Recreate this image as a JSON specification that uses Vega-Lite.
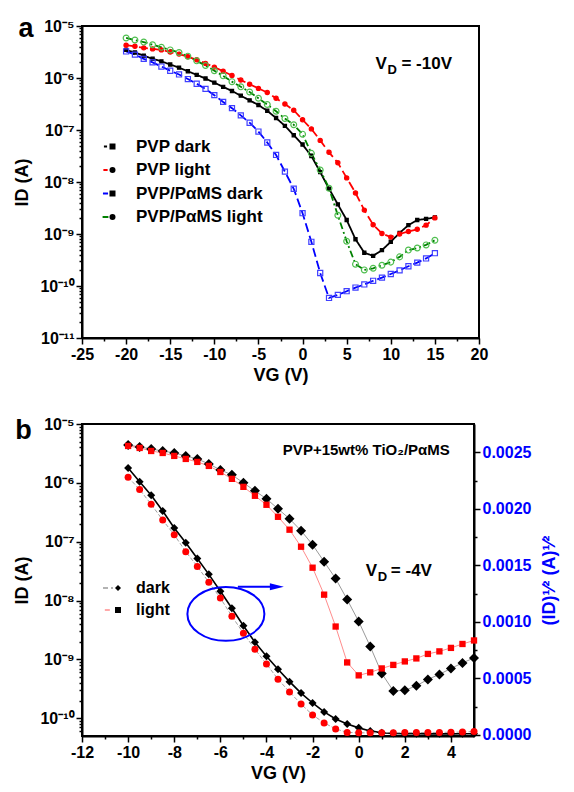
{
  "$schema": "https://vega.github.io/schema/vega-lite/v6.json",
  "background": "white",
  "padding": {"left": 12, "top": 14, "right": 0, "bottom": 0},
  "spacing": 30,
  "resolve": {
    "scale": {"color": "independent", "fill": "independent", "shape": "independent", "size": "independent", "stroke": "independent", "strokeDash": "independent"},
    "legend": {"color": "independent", "fill": "independent", "shape": "independent", "size": "independent", "stroke": "independent", "strokeDash": "independent"}
  },
  "config": {
    "font": "Liberation Sans",
    "view": {"stroke": "black", "strokeWidth": 2},
    "axis": {"labelFont": "Liberation Sans", "labelFontWeight": "bold", "labelFontSize": 16, "labelColor": "black", "titleFont": "Liberation Sans", "titleFontWeight": "bold", "titleFontSize": 18, "titleColor": "black", "domainColor": "black", "domainWidth": 2, "tickColor": "black", "tickWidth": 1.5, "tickSize": 6, "grid": false, "labelPadding": 2, "labelFlush": false, "labelOverlap": false},
    "legend": {"labelFont": "Liberation Sans", "labelFontWeight": "bold", "labelColor": "black"},
    "text": {"font": "Liberation Sans", "fontWeight": "bold"}
  },
  "datasets": {
    "a": [
      {"s":"PVP dark","V":-20,"I":3.47e-6},{"s":"PVP dark","V":-19,"I":3.09e-6},{"s":"PVP dark","V":-18,"I":2.69e-6},{"s":"PVP dark","V":-17,"I":2.34e-6},{"s":"PVP dark","V":-16,"I":2.09e-6},{"s":"PVP dark","V":-15,"I":1.82e-6},{"s":"PVP dark","V":-14,"I":1.58e-6},{"s":"PVP dark","V":-13,"I":1.35e-6},{"s":"PVP dark","V":-12,"I":1.15e-6},{"s":"PVP dark","V":-11,"I":9.77e-7},{"s":"PVP dark","V":-10,"I":8.13e-7},{"s":"PVP dark","V":-9,"I":6.76e-7},{"s":"PVP dark","V":-8,"I":5.62e-7},{"s":"PVP dark","V":-7,"I":4.57e-7},{"s":"PVP dark","V":-6,"I":3.72e-7},{"s":"PVP dark","V":-5,"I":3.02e-7},{"s":"PVP dark","V":-4,"I":2.34e-7},{"s":"PVP dark","V":-3,"I":1.70e-7},{"s":"PVP dark","V":-2,"I":1.20e-7},{"s":"PVP dark","V":-1,"I":7.94e-8},{"s":"PVP dark","V":0,"I":5.25e-8},{"s":"PVP dark","V":1,"I":3.16e-8},{"s":"PVP dark","V":2,"I":1.55e-8},{"s":"PVP dark","V":3,"I":7.41e-9},{"s":"PVP dark","V":4,"I":3.72e-9},{"s":"PVP dark","V":5,"I":1.86e-9},{"s":"PVP dark","V":6,"I":7.94e-10},{"s":"PVP dark","V":7,"I":4.37e-10},{"s":"PVP dark","V":8,"I":3.80e-10},{"s":"PVP dark","V":9,"I":4.90e-10},{"s":"PVP dark","V":10,"I":7.08e-10},{"s":"PVP dark","V":11,"I":1.05e-9},{"s":"PVP dark","V":12,"I":1.48e-9},{"s":"PVP dark","V":13,"I":1.86e-9},{"s":"PVP dark","V":14,"I":1.95e-9},{"s":"PVP dark","V":15,"I":2.09e-9},
      {"s":"PVP light","V":-20,"I":4.27e-6},{"s":"PVP light","V":-19,"I":4.07e-6},{"s":"PVP light","V":-18,"I":3.80e-6},{"s":"PVP light","V":-17,"I":3.63e-6},{"s":"PVP light","V":-16,"I":3.47e-6},{"s":"PVP light","V":-15,"I":3.16e-6},{"s":"PVP light","V":-14,"I":2.88e-6},{"s":"PVP light","V":-13,"I":2.57e-6},{"s":"PVP light","V":-12,"I":2.24e-6},{"s":"PVP light","V":-11,"I":1.91e-6},{"s":"PVP light","V":-10,"I":1.62e-6},{"s":"PVP light","V":-9,"I":1.35e-6},{"s":"PVP light","V":-8,"I":1.12e-6},{"s":"PVP light","V":-7,"I":9.12e-7},{"s":"PVP light","V":-6,"I":7.59e-7},{"s":"PVP light","V":-5,"I":6.31e-7},{"s":"PVP light","V":-4,"I":5.25e-7},{"s":"PVP light","V":-3,"I":4.07e-7},{"s":"PVP light","V":-2,"I":3.16e-7},{"s":"PVP light","V":-1,"I":2.40e-7},{"s":"PVP light","V":0,"I":1.58e-7},{"s":"PVP light","V":1,"I":1.05e-7},{"s":"PVP light","V":2,"I":6.31e-8},{"s":"PVP light","V":3,"I":3.72e-8},{"s":"PVP light","V":4,"I":2.34e-8},{"s":"PVP light","V":5,"I":1.20e-8},{"s":"PVP light","V":6,"I":6.17e-9},{"s":"PVP light","V":7,"I":2.88e-9},{"s":"PVP light","V":8,"I":1.51e-9},{"s":"PVP light","V":9,"I":1.02e-9},{"s":"PVP light","V":10,"I":8.71e-10},{"s":"PVP light","V":11,"I":1.00e-9},{"s":"PVP light","V":12,"I":1.12e-9},{"s":"PVP light","V":13,"I":1.23e-9},{"s":"PVP light","V":14,"I":1.48e-9},{"s":"PVP light","V":15,"I":2.04e-9},
      {"s":"PVP/PαMS dark","V":-20,"I":3.24e-6},{"s":"PVP/PαMS dark","V":-19,"I":2.82e-6},{"s":"PVP/PαMS dark","V":-18,"I":2.34e-6},{"s":"PVP/PαMS dark","V":-17,"I":2.00e-6},{"s":"PVP/PαMS dark","V":-16,"I":1.66e-6},{"s":"PVP/PαMS dark","V":-15,"I":1.38e-6},{"s":"PVP/PαMS dark","V":-14,"I":1.17e-6},{"s":"PVP/PαMS dark","V":-13,"I":9.55e-7},{"s":"PVP/PαMS dark","V":-12,"I":7.76e-7},{"s":"PVP/PαMS dark","V":-11,"I":6.17e-7},{"s":"PVP/PαMS dark","V":-10,"I":4.68e-7},{"s":"PVP/PαMS dark","V":-9,"I":3.47e-7},{"s":"PVP/PαMS dark","V":-8,"I":2.63e-7},{"s":"PVP/PαMS dark","V":-7,"I":1.91e-7},{"s":"PVP/PαMS dark","V":-6,"I":1.38e-7},{"s":"PVP/PαMS dark","V":-5,"I":9.33e-8},{"s":"PVP/PαMS dark","V":-4,"I":5.75e-8},{"s":"PVP/PαMS dark","V":-3,"I":3.31e-8},{"s":"PVP/PαMS dark","V":-2,"I":1.58e-8},{"s":"PVP/PαMS dark","V":-1,"I":7.41e-9},{"s":"PVP/PαMS dark","V":0,"I":2.51e-9},{"s":"PVP/PαMS dark","V":1,"I":7.08e-10},{"s":"PVP/PαMS dark","V":2,"I":1.78e-10},{"s":"PVP/PαMS dark","V":3,"I":5.89e-11},{"s":"PVP/PαMS dark","V":4,"I":6.76e-11},{"s":"PVP/PαMS dark","V":5,"I":7.94e-11},{"s":"PVP/PαMS dark","V":6,"I":9.33e-11},{"s":"PVP/PαMS dark","V":7,"I":1.07e-10},{"s":"PVP/PαMS dark","V":8,"I":1.26e-10},{"s":"PVP/PαMS dark","V":9,"I":1.45e-10},{"s":"PVP/PαMS dark","V":10,"I":1.70e-10},{"s":"PVP/PαMS dark","V":11,"I":2.00e-10},{"s":"PVP/PαMS dark","V":12,"I":2.40e-10},{"s":"PVP/PαMS dark","V":13,"I":2.82e-10},{"s":"PVP/PαMS dark","V":14,"I":3.39e-10},{"s":"PVP/PαMS dark","V":15,"I":4.27e-10},
      {"s":"PVP/PαMS light","V":-20,"I":5.89e-6},{"s":"PVP/PαMS light","V":-19,"I":5.37e-6},{"s":"PVP/PαMS light","V":-18,"I":4.90e-6},{"s":"PVP/PαMS light","V":-17,"I":4.37e-6},{"s":"PVP/PαMS light","V":-16,"I":3.89e-6},{"s":"PVP/PαMS light","V":-15,"I":3.47e-6},{"s":"PVP/PαMS light","V":-14,"I":3.09e-6},{"s":"PVP/PαMS light","V":-13,"I":2.63e-6},{"s":"PVP/PαMS light","V":-12,"I":2.14e-6},{"s":"PVP/PαMS light","V":-11,"I":1.74e-6},{"s":"PVP/PαMS light","V":-10,"I":1.38e-6},{"s":"PVP/PαMS light","V":-9,"I":1.10e-6},{"s":"PVP/PαMS light","V":-8,"I":8.51e-7},{"s":"PVP/PαMS light","V":-7,"I":6.76e-7},{"s":"PVP/PαMS light","V":-6,"I":5.37e-7},{"s":"PVP/PαMS light","V":-5,"I":4.07e-7},{"s":"PVP/PαMS light","V":-4,"I":3.09e-7},{"s":"PVP/PαMS light","V":-3,"I":2.29e-7},{"s":"PVP/PαMS light","V":-2,"I":1.66e-7},{"s":"PVP/PαMS light","V":-1,"I":1.26e-7},{"s":"PVP/PαMS light","V":0,"I":8.32e-8},{"s":"PVP/PαMS light","V":1,"I":3.55e-8},{"s":"PVP/PαMS light","V":2,"I":1.70e-8},{"s":"PVP/PαMS light","V":3,"I":7.59e-9},{"s":"PVP/PαMS light","V":4,"I":2.29e-9},{"s":"PVP/PαMS light","V":5,"I":7.24e-10},{"s":"PVP/PαMS light","V":6,"I":2.63e-10},{"s":"PVP/PαMS light","V":7,"I":2.04e-10},{"s":"PVP/PαMS light","V":8,"I":2.19e-10},{"s":"PVP/PαMS light","V":9,"I":2.51e-10},{"s":"PVP/PαMS light","V":10,"I":2.88e-10},{"s":"PVP/PαMS light","V":11,"I":3.63e-10},{"s":"PVP/PαMS light","V":12,"I":4.90e-10},{"s":"PVP/PαMS light","V":13,"I":5.37e-10},{"s":"PVP/PαMS light","V":14,"I":6.17e-10},{"s":"PVP/PαMS light","V":15,"I":7.59e-10}
    ],
    "bl": [
      {"s":"dark","V":-10,"I":4.41e-6},{"s":"dark","V":-9.5,"I":4.07e-6},{"s":"dark","V":-9,"I":3.77e-6},{"s":"dark","V":-8.5,"I":3.48e-6},{"s":"dark","V":-8,"I":3.22e-6},{"s":"dark","V":-7.5,"I":2.87e-6},{"s":"dark","V":-7,"I":2.55e-6},{"s":"dark","V":-6.5,"I":2.10e-6},{"s":"dark","V":-6,"I":1.66e-6},{"s":"dark","V":-5.5,"I":1.37e-6},{"s":"dark","V":-5,"I":1.00e-6},{"s":"dark","V":-4.5,"I":7.31e-7},{"s":"dark","V":-4,"I":5.36e-7},{"s":"dark","V":-3.5,"I":3.62e-7},{"s":"dark","V":-3,"I":2.45e-7},{"s":"dark","V":-2.5,"I":1.54e-7},{"s":"dark","V":-2,"I":8.89e-8},{"s":"dark","V":-1.5,"I":4.58e-8},{"s":"dark","V":-1,"I":2.36e-8},{"s":"dark","V":-0.5,"I":1.04e-8},{"s":"dark","V":0,"I":4.41e-9},{"s":"dark","V":0.5,"I":1.66e-9},{"s":"dark","V":1,"I":5.79e-10},{"s":"dark","V":1.5,"I":2.92e-10},{"s":"dark","V":2,"I":2.99e-10},{"s":"dark","V":2.5,"I":3.56e-10},{"s":"dark","V":3,"I":4.58e-10},{"s":"dark","V":3.5,"I":5.57e-10},{"s":"dark","V":4,"I":7.03e-10},{"s":"dark","V":4.5,"I":8.73e-10},{"s":"dark","V":5,"I":1.06e-9},
      {"s":"light","V":-10,"I":4.24e-6},{"s":"light","V":-9.5,"I":3.92e-6},{"s":"light","V":-9,"I":3.48e-6},{"s":"light","V":-8.5,"I":3.22e-6},{"s":"light","V":-8,"I":2.87e-6},{"s":"light","V":-7.5,"I":2.55e-6},{"s":"light","V":-7,"I":2.27e-6},{"s":"light","V":-6.5,"I":1.94e-6},{"s":"light","V":-6,"I":1.53e-6},{"s":"light","V":-5.5,"I":1.17e-6},{"s":"light","V":-5,"I":8.55e-7},{"s":"light","V":-4.5,"I":6.03e-7},{"s":"light","V":-4,"I":4.24e-7},{"s":"light","V":-3.5,"I":2.65e-7},{"s":"light","V":-3,"I":1.60e-7},{"s":"light","V":-2.5,"I":8.22e-8},{"s":"light","V":-2,"I":3.62e-8},{"s":"light","V":-1.5,"I":1.26e-8},{"s":"light","V":-1,"I":3.62e-9},{"s":"light","V":-0.5,"I":8.89e-10},{"s":"light","V":0,"I":5.36e-10},{"s":"light","V":0.5,"I":6.03e-10},{"s":"light","V":1,"I":7.03e-10},{"s":"light","V":1.5,"I":8.07e-10},{"s":"light","V":2,"I":9.25e-10},{"s":"light","V":2.5,"I":1.04e-9},{"s":"light","V":3,"I":1.24e-9},{"s":"light","V":3.5,"I":1.37e-9},{"s":"light","V":4,"I":1.57e-9},{"s":"light","V":4.5,"I":1.83e-9},{"s":"light","V":5,"I":2.10e-9}
    ],
    "bs": [
      {"s":"dark","V":-10,"R":0.00236},{"s":"dark","V":-9.5,"R":0.00224},{"s":"dark","V":-9,"R":0.00212},{"s":"dark","V":-8.5,"R":0.00198},{"s":"dark","V":-8,"R":0.00183},{"s":"dark","V":-7.5,"R":0.00170},{"s":"dark","V":-7,"R":0.00156},{"s":"dark","V":-6.5,"R":0.00142},{"s":"dark","V":-6,"R":0.00127},{"s":"dark","V":-5.5,"R":0.00112},{"s":"dark","V":-5,"R":0.000965},{"s":"dark","V":-4.5,"R":0.000819},{"s":"dark","V":-4,"R":0.000696},{"s":"dark","V":-3.5,"R":0.000581},{"s":"dark","V":-3,"R":0.000471},{"s":"dark","V":-2.5,"R":0.000370},{"s":"dark","V":-2,"R":0.000282},{"s":"dark","V":-1.5,"R":0.000203},{"s":"dark","V":-1,"R":0.000141},{"s":"dark","V":-0.5,"R":0.000097},{"s":"dark","V":0,"R":0.000062},{"s":"dark","V":0.5,"R":0.000035},{"s":"dark","V":1,"R":0.000018},{"s":"dark","V":1.5,"R":0.000012},{"s":"dark","V":2,"R":0.00001},{"s":"dark","V":2.5,"R":0.00001},{"s":"dark","V":3,"R":0.000009},{"s":"dark","V":3.5,"R":0.000009},{"s":"dark","V":4,"R":0.000009},{"s":"dark","V":4.5,"R":0.00001},{"s":"dark","V":5,"R":0.00001},
      {"s":"light","V":-10,"R":0.00228},{"s":"light","V":-9.5,"R":0.00217},{"s":"light","V":-9,"R":0.00204},{"s":"light","V":-8.5,"R":0.00190},{"s":"light","V":-8,"R":0.00177},{"s":"light","V":-7.5,"R":0.00162},{"s":"light","V":-7,"R":0.00149},{"s":"light","V":-6.5,"R":0.00135},{"s":"light","V":-6,"R":0.00121},{"s":"light","V":-5.5,"R":0.00105},{"s":"light","V":-5,"R":0.000899},{"s":"light","V":-4.5,"R":0.000758},{"s":"light","V":-4,"R":0.000626},{"s":"light","V":-3.5,"R":0.000493},{"s":"light","V":-3,"R":0.000379},{"s":"light","V":-2.5,"R":0.000273},{"s":"light","V":-2,"R":0.000176},{"s":"light","V":-1.5,"R":0.000106},{"s":"light","V":-1,"R":0.000053},{"s":"light","V":-0.5,"R":0.000022},{"s":"light","V":0,"R":0.000018},{"s":"light","V":0.5,"R":0.000018},{"s":"light","V":1,"R":0.000019},{"s":"light","V":1.5,"R":0.000019},{"s":"light","V":2,"R":0.00002},{"s":"light","V":2.5,"R":0.00002},{"s":"light","V":3,"R":0.000021},{"s":"light","V":3.5,"R":0.000022},{"s":"light","V":4,"R":0.000023},{"s":"light","V":4.5,"R":0.000025},{"s":"light","V":5,"R":0.00003}
    ]
  },
  "vconcat": [
    {
      "width": 397,
      "height": 312,
      "resolve": {"axis": {"x": "independent", "y": "independent"}},
      "layer": [
        {
          "data": {"name": "a"},
          "mark": {"type": "line", "strokeWidth": 1.8},
          "encoding": {
            "x": {"field": "V", "type": "quantitative", "scale": {"domain": [-25, 20], "nice": false, "zero": false},
              "axis": {"orient": "bottom", "values": [-25, -20, -15, -10, -5, 0, 5, 10, 15, 20], "labelExpr": "'' + datum.value", "title": "VG (V)", "titlePadding": 4}},
            "y": {"field": "I", "type": "quantitative", "scale": {"type": "log", "domain": [1e-11, 1e-5], "nice": false},
              "axis": {"orient": "left", "values": [1e-11, 1e-10, 1e-9, 1e-8, 1e-7, 1e-6, 1e-5], "title": "ID (A)", "titlePadding": 8,
                "labelExpr": "'10' + (round(log(datum.value)/LN10) == -5 ? '⁻⁵' : round(log(datum.value)/LN10) == -6 ? '⁻⁶' : round(log(datum.value)/LN10) == -7 ? '⁻⁷' : round(log(datum.value)/LN10) == -8 ? '⁻⁸' : round(log(datum.value)/LN10) == -9 ? '⁻⁹' : round(log(datum.value)/LN10) == -10 ? '⁻¹⁰' : '⁻¹¹')"}},
            "color": {"field": "s", "type": "nominal",
              "scale": {"domain": ["PVP dark", "PVP light", "PVP/PαMS dark", "PVP/PαMS light"], "range": ["black", "#ff0000", "#0000ff", "#008000"]},
              "legend": {"orient": "none", "legendX": 15, "legendY": 112, "title": null, "labelFontSize": 17, "labelOffset": 22, "rowPadding": 5.5, "labelLimit": 300, "symbolType": "stroke", "symbolSize": 3844, "symbolStrokeWidth": 2}},
            "strokeDash": {"field": "s", "type": "nominal",
              "scale": {"domain": ["PVP dark", "PVP light", "PVP/PαMS dark", "PVP/PαMS light"], "range": [[1, 0], [9, 4], [9, 4], [7, 3, 2, 3]]},
              "legend": {"orient": "none", "legendX": 15, "legendY": 112, "title": null, "labelFontSize": 17, "labelOffset": 22, "rowPadding": 5.5, "labelLimit": 300, "symbolType": "stroke", "symbolSize": 3844, "symbolStrokeWidth": 2}}
          }
        },
        {
          "data": {"name": "a"},
          "mark": {"type": "point", "filled": true, "strokeWidth": 1.2, "opacity": 1},
          "encoding": {
            "x": {"field": "V", "type": "quantitative", "scale": {"domain": [-25, 20], "nice": false, "zero": false},
              "axis": {"orient": "bottom", "values": [-22.5, -17.5, -12.5, -7.5, -2.5, 2.5, 7.5, 12.5, 17.5], "labels": false, "domain": false, "tickSize": 3, "title": null}},
            "y": {"field": "I", "type": "quantitative", "scale": {"type": "log", "domain": [1e-11, 1e-5], "nice": false},
              "axis": {"orient": "left", "labels": false, "domain": false, "tickSize": 3, "title": null,
                "values": [2e-11, 3e-11, 4e-11, 5e-11, 6e-11, 7e-11, 8e-11, 9e-11, 2e-10, 3e-10, 4e-10, 5e-10, 6e-10, 7e-10, 8e-10, 9e-10, 2e-9, 3e-9, 4e-9, 5e-9, 6e-9, 7e-9, 8e-9, 9e-9, 2e-8, 3e-8, 4e-8, 5e-8, 6e-8, 7e-8, 8e-8, 9e-8, 2e-7, 3e-7, 4e-7, 5e-7, 6e-7, 7e-7, 8e-7, 9e-7, 2e-6, 3e-6, 4e-6, 5e-6, 6e-6, 7e-6, 8e-6, 9e-6]}},
            "shape": {"field": "s", "type": "nominal",
              "scale": {"domain": ["PVP dark", "PVP light", "PVP/PαMS dark", "PVP/PαMS light", "other"], "range": ["square", "circle", "square", "circle", "circle"]},
              "legend": {"orient": "none", "legendX": 22, "legendY": 112, "title": null, "values": ["PVP dark", "PVP light", "PVP/PαMS dark", "PVP/PαMS light"],
                "labelFontSize": 17, "labelExpr": "''", "rowPadding": 5.5, "symbolSize": 36,
                "encode": {"symbols": {"update": {
                  "fill": [
                    {"test": "datum.value === 'PVP dark'", "value": "black"},
                    {"test": "datum.value === 'PVP light'", "value": "#ff0000"},
                    {"value": "white"}
                  ],
                  "stroke": [
                    {"test": "datum.value === 'PVP dark'", "value": "black"},
                    {"test": "datum.value === 'PVP light'", "value": "#ff0000"},
                    {"test": "datum.value === 'PVP/PαMS dark'", "value": "#0000ff"},
                    {"value": "#2e9e2e"}
                  ],
                  "size": [
                    {"test": "datum.value === 'PVP dark'", "value": 18},
                    {"test": "datum.value === 'PVP/PαMS dark'", "value": 24},
                    {"value": 36}
                  ],
                  "strokeWidth": {"value": 1.2},
                  "opacity": {"value": 1}
                }}}
              }},
            "fill": {"field": "s", "type": "nominal", "scale": {"domain": ["PVP dark", "PVP light", "PVP/PαMS dark", "PVP/PαMS light"], "range": ["black", "#ff0000", "transparent", "transparent"]}, "legend": null},
            "stroke": {"field": "s", "type": "nominal", "scale": {"domain": ["PVP dark", "PVP light", "PVP/PαMS dark", "PVP/PαMS light"], "range": ["black", "#ff0000", "#4040ff", "#4fbf4f"]}, "legend": null},
            "size": {"field": "s", "type": "ordinal", "scale": {"domain": ["PVP dark", "PVP light", "PVP/PαMS dark", "PVP/PαMS light"], "range": [10, 34, 20, 34]}, "legend": null}
          }
        },
        {
          "data": {"values": [{}]},
          "mark": {"type": "text", "text": "a", "fontSize": 27, "align": "left", "baseline": "alphabetic"},
          "encoding": {
            "x": {"datum": -32.2, "type": "quantitative", "scale": {"domain": [-25, 20], "nice": false, "zero": false}, "axis": null},
            "y": {"datum": 6.1e-6, "type": "quantitative", "scale": {"type": "log", "domain": [1e-11, 1e-5], "nice": false}, "axis": null}
          }
        },
        {
          "data": {"values": [{}]},
          "mark": {"type": "text", "text": "V", "fontSize": 17, "align": "left", "baseline": "alphabetic"},
          "encoding": {
            "x": {"datum": 8.26, "type": "quantitative", "scale": {"domain": [-25, 20], "nice": false, "zero": false}, "axis": null},
            "y": {"datum": 1.49e-6, "type": "quantitative", "scale": {"type": "log", "domain": [1e-11, 1e-5], "nice": false}, "axis": null}
          }
        },
        {
          "data": {"values": [{}]},
          "mark": {"type": "text", "text": "D", "fontSize": 13, "align": "left", "baseline": "alphabetic", "dx": 12, "dy": 5},
          "encoding": {
            "x": {"datum": 8.26, "type": "quantitative", "scale": {"domain": [-25, 20], "nice": false, "zero": false}, "axis": null},
            "y": {"datum": 1.49e-6, "type": "quantitative", "scale": {"type": "log", "domain": [1e-11, 1e-5], "nice": false}, "axis": null}
          }
        },
        {
          "data": {"values": [{}]},
          "mark": {"type": "text", "text": "= -10V", "fontSize": 17, "align": "left", "baseline": "alphabetic", "dx": 26},
          "encoding": {
            "x": {"datum": 8.26, "type": "quantitative", "scale": {"domain": [-25, 20], "nice": false, "zero": false}, "axis": null},
            "y": {"datum": 1.49e-6, "type": "quantitative", "scale": {"type": "log", "domain": [1e-11, 1e-5], "nice": false}, "axis": null}
          }
        }
      ]
    },
    {
      "width": 392,
      "height": 312,
      "resolve": {"scale": {"y": "independent"}, "axis": {"x": "independent", "y": "independent"}},
      "layer": [
        {
          "data": {"name": "bl"},
          "mark": {"type": "line", "strokeWidth": 1},
          "encoding": {
            "x": {"field": "V", "type": "quantitative", "scale": {"domain": [-12, 5], "nice": false, "zero": false},
              "axis": {"orient": "bottom", "values": [-12, -10, -8, -6, -4, -2, 0, 2, 4], "labelExpr": "'' + datum.value", "title": "VG (V)", "titlePadding": 4}},
            "y": {"field": "I", "type": "quantitative", "scale": {"type": "log", "domain": [5e-11, 1e-5], "nice": false},
              "axis": {"orient": "left", "values": [1e-10, 1e-9, 1e-8, 1e-7, 1e-6, 1e-5], "title": "ID (A)", "titlePadding": 8,
                "labelExpr": "'10' + (round(log(datum.value)/LN10) == -5 ? '⁻⁵' : round(log(datum.value)/LN10) == -6 ? '⁻⁶' : round(log(datum.value)/LN10) == -7 ? '⁻⁷' : round(log(datum.value)/LN10) == -8 ? '⁻⁸' : round(log(datum.value)/LN10) == -9 ? '⁻⁹' : round(log(datum.value)/LN10) == -10 ? '⁻¹⁰' : '⁻¹¹')"}},
            "color": {"field": "s", "type": "nominal", "scale": {"domain": ["dark", "light"], "range": ["#9a9a9a", "#ff8c8c"]},
              "legend": {"orient": "none", "legendX": 18, "legendY": 156, "title": null, "labelFontSize": 16, "labelOffset": 20, "rowPadding": 6, "symbolType": "stroke", "symbolSize": 3844, "symbolStrokeWidth": 1.5, "symbolDash": [5, 3]}}
          }
        },
        {
          "data": {"name": "bl"},
          "mark": {"type": "point", "filled": true, "opacity": 1},
          "encoding": {
            "x": {"field": "V", "type": "quantitative", "scale": {"domain": [-12, 5], "nice": false, "zero": false},
              "axis": {"orient": "bottom", "values": [-11, -9, -7, -5, -3, -1, 1, 3], "labels": false, "domain": false, "tickSize": 3, "title": null}},
            "y": {"field": "I", "type": "quantitative", "scale": {"type": "log", "domain": [5e-11, 1e-5], "nice": false},
              "axis": {"orient": "left", "labels": false, "domain": false, "tickSize": 3, "title": null,
                "values": [6e-11, 7e-11, 8e-11, 9e-11, 2e-10, 3e-10, 4e-10, 5e-10, 6e-10, 7e-10, 8e-10, 9e-10, 2e-9, 3e-9, 4e-9, 5e-9, 6e-9, 7e-9, 8e-9, 9e-9, 2e-8, 3e-8, 4e-8, 5e-8, 6e-8, 7e-8, 8e-8, 9e-8, 2e-7, 3e-7, 4e-7, 5e-7, 6e-7, 7e-7, 8e-7, 9e-7, 2e-6, 3e-6, 4e-6, 5e-6, 6e-6, 7e-6, 8e-6, 9e-6]}},
            "shape": {"field": "s", "type": "nominal",
              "scale": {"domain": ["dark", "light", "other"], "range": ["diamond", "square", "circle"]},
              "legend": {"orient": "none", "legendX": 28, "legendY": 156, "title": null, "values": ["dark", "light"],
                "labelFontSize": 16, "labelExpr": "''", "rowPadding": 6, "symbolSize": 36,
                "encode": {"symbols": {"update": {
                  "fill": [
                    {"test": "datum.value === 'dark'", "value": "black"},
                    {"value": "#ff0000"}
                  ],
                  "stroke": {"value": "transparent"},
                  "size": [
                    {"test": "datum.value === 'dark'", "value": 100},
                    {"value": 40}
                  ],
                  "opacity": {"value": 1}
                }}}
              }},
            "size": {"field": "s", "type": "ordinal", "scale": {"domain": ["dark", "light"], "range": [100, 40]}, "legend": null},
            "fill": {"field": "s", "type": "nominal", "scale": {"domain": ["dark", "light"], "range": ["black", "#ff0000"]}, "legend": null}
          }
        },
        {
          "data": {"name": "bs"},
          "transform": [{"filter": "datum.s === 'dark'"}],
          "mark": {"type": "line", "strokeWidth": 1.6, "color": "black"},
          "encoding": {
            "x": {"field": "V", "type": "quantitative", "scale": {"domain": [-12, 5], "nice": false, "zero": false}, "axis": null},
            "y": {"field": "R", "type": "quantitative", "scale": {"domain": [-0.00001, 0.00275], "nice": false, "zero": false},
              "axis": {"orient": "right", "values": [0, 0.0005, 0.001, 0.0015, 0.002, 0.0025], "format": ".4f", "labelColor": "#0000ff",
                "title": "(ID)¹⁄² (A)¹⁄²", "titleColor": "#0000ff", "titleAngle": 270, "titlePadding": 28}}
          }
        },
        {
          "data": {"name": "bs"},
          "transform": [{"filter": "datum.s === 'light'"}],
          "mark": {"type": "line", "strokeWidth": 1, "color": "#a0a0a0", "strokeDash": [4, 2]},
          "encoding": {
            "x": {"field": "V", "type": "quantitative", "scale": {"domain": [-12, 5], "nice": false, "zero": false}, "axis": null},
            "y": {"field": "R", "type": "quantitative", "scale": {"domain": [-0.00001, 0.00275], "nice": false, "zero": false},
              "axis": {"orient": "right", "values": [0.00025, 0.00075, 0.00125, 0.00175, 0.00225], "labels": false, "domain": false, "tickSize": 3, "title": null}}
          }
        },
        {
          "data": {"name": "bs"},
          "transform": [{"filter": "datum.s === 'dark'"}],
          "mark": {"type": "point", "shape": "diamond", "filled": true, "color": "black", "size": 64, "opacity": 1},
          "encoding": {
            "x": {"field": "V", "type": "quantitative", "scale": {"domain": [-12, 5], "nice": false, "zero": false}, "axis": null},
            "y": {"field": "R", "type": "quantitative", "scale": {"domain": [-0.00001, 0.00275], "nice": false, "zero": false}, "axis": null}
          }
        },
        {
          "data": {"name": "bs"},
          "transform": [{"filter": "datum.s === 'light'"}],
          "mark": {"type": "point", "shape": "circle", "filled": true, "color": "#ff0000", "size": 49, "opacity": 1},
          "encoding": {
            "x": {"field": "V", "type": "quantitative", "scale": {"domain": [-12, 5], "nice": false, "zero": false}, "axis": null},
            "y": {"field": "R", "type": "quantitative", "scale": {"domain": [-0.00001, 0.00275], "nice": false, "zero": false}, "axis": null}
          }
        },
        {
          "data": {"values": [{}]},
          "mark": {"type": "point", "shape": "M-1,0A1,0.7,0,1,0,1,0A1,0.7,0,1,0,-1,0Z", "size": 5929, "filled": false, "stroke": "#0000ff", "strokeWidth": 2, "opacity": 1},
          "encoding": {
            "x": {"datum": -5.76, "type": "quantitative", "scale": {"domain": [-12, 5], "nice": false, "zero": false}, "axis": null},
            "y": {"datum": 0.00107, "type": "quantitative", "scale": {"domain": [-0.00001, 0.00275], "nice": false, "zero": false}, "axis": null}
          }
        },
        {
          "data": {"values": [{}]},
          "mark": {"type": "rule", "stroke": "#0000ff", "strokeWidth": 2},
          "encoding": {
            "x": {"datum": -5.24, "type": "quantitative", "scale": {"domain": [-12, 5], "nice": false, "zero": false}, "axis": null},
            "x2": {"datum": -3.8},
            "y": {"datum": 0.00131, "type": "quantitative", "scale": {"domain": [-0.00001, 0.00275], "nice": false, "zero": false}, "axis": null}
          }
        },
        {
          "data": {"values": [{}]},
          "mark": {"type": "point", "shape": "M1,0L-1,-0.5L-1,0.5Z", "size": 196, "filled": true, "color": "#0000ff", "opacity": 1},
          "encoding": {
            "x": {"datum": -3.55, "type": "quantitative", "scale": {"domain": [-12, 5], "nice": false, "zero": false}, "axis": null},
            "y": {"datum": 0.00131, "type": "quantitative", "scale": {"domain": [-0.00001, 0.00275], "nice": false, "zero": false}, "axis": null}
          }
        },
        {
          "data": {"values": [{}]},
          "mark": {"type": "text", "text": "b", "fontSize": 27, "align": "left", "baseline": "alphabetic"},
          "encoding": {
            "x": {"datum": -14.9, "type": "quantitative", "scale": {"domain": [-12, 5], "nice": false, "zero": false}, "axis": null},
            "y": {"datum": 5.6e-6, "type": "quantitative", "scale": {"type": "log", "domain": [5e-11, 1e-5], "nice": false}, "axis": null}
          }
        },
        {
          "data": {"values": [{}]},
          "mark": {"type": "text", "text": "PVP+15wt% TiO₂/PαMS", "fontSize": 15, "align": "right", "baseline": "alphabetic"},
          "encoding": {
            "x": {"datum": 3.95, "type": "quantitative", "scale": {"domain": [-12, 5], "nice": false, "zero": false}, "axis": null},
            "y": {"datum": 2.99e-6, "type": "quantitative", "scale": {"type": "log", "domain": [5e-11, 1e-5], "nice": false}, "axis": null}
          }
        },
        {
          "data": {"values": [{}]},
          "mark": {"type": "text", "text": "V", "fontSize": 17, "align": "left", "baseline": "alphabetic"},
          "encoding": {
            "x": {"datum": 0.31, "type": "quantitative", "scale": {"domain": [-12, 5], "nice": false, "zero": false}, "axis": null},
            "y": {"datum": 2.65e-8, "type": "quantitative", "scale": {"type": "log", "domain": [5e-11, 1e-5], "nice": false}, "axis": null}
          }
        },
        {
          "data": {"values": [{}]},
          "mark": {"type": "text", "text": "D", "fontSize": 13, "align": "left", "baseline": "alphabetic", "dx": 12, "dy": 5},
          "encoding": {
            "x": {"datum": 0.31, "type": "quantitative", "scale": {"domain": [-12, 5], "nice": false, "zero": false}, "axis": null},
            "y": {"datum": 2.65e-8, "type": "quantitative", "scale": {"type": "log", "domain": [5e-11, 1e-5], "nice": false}, "axis": null}
          }
        },
        {
          "data": {"values": [{}]},
          "mark": {"type": "text", "text": "= -4V", "fontSize": 17, "align": "left", "baseline": "alphabetic", "dx": 25},
          "encoding": {
            "x": {"datum": 0.31, "type": "quantitative", "scale": {"domain": [-12, 5], "nice": false, "zero": false}, "axis": null},
            "y": {"datum": 2.65e-8, "type": "quantitative", "scale": {"type": "log", "domain": [5e-11, 1e-5], "nice": false}, "axis": null}
          }
        }
      ]
    }
  ]
}
